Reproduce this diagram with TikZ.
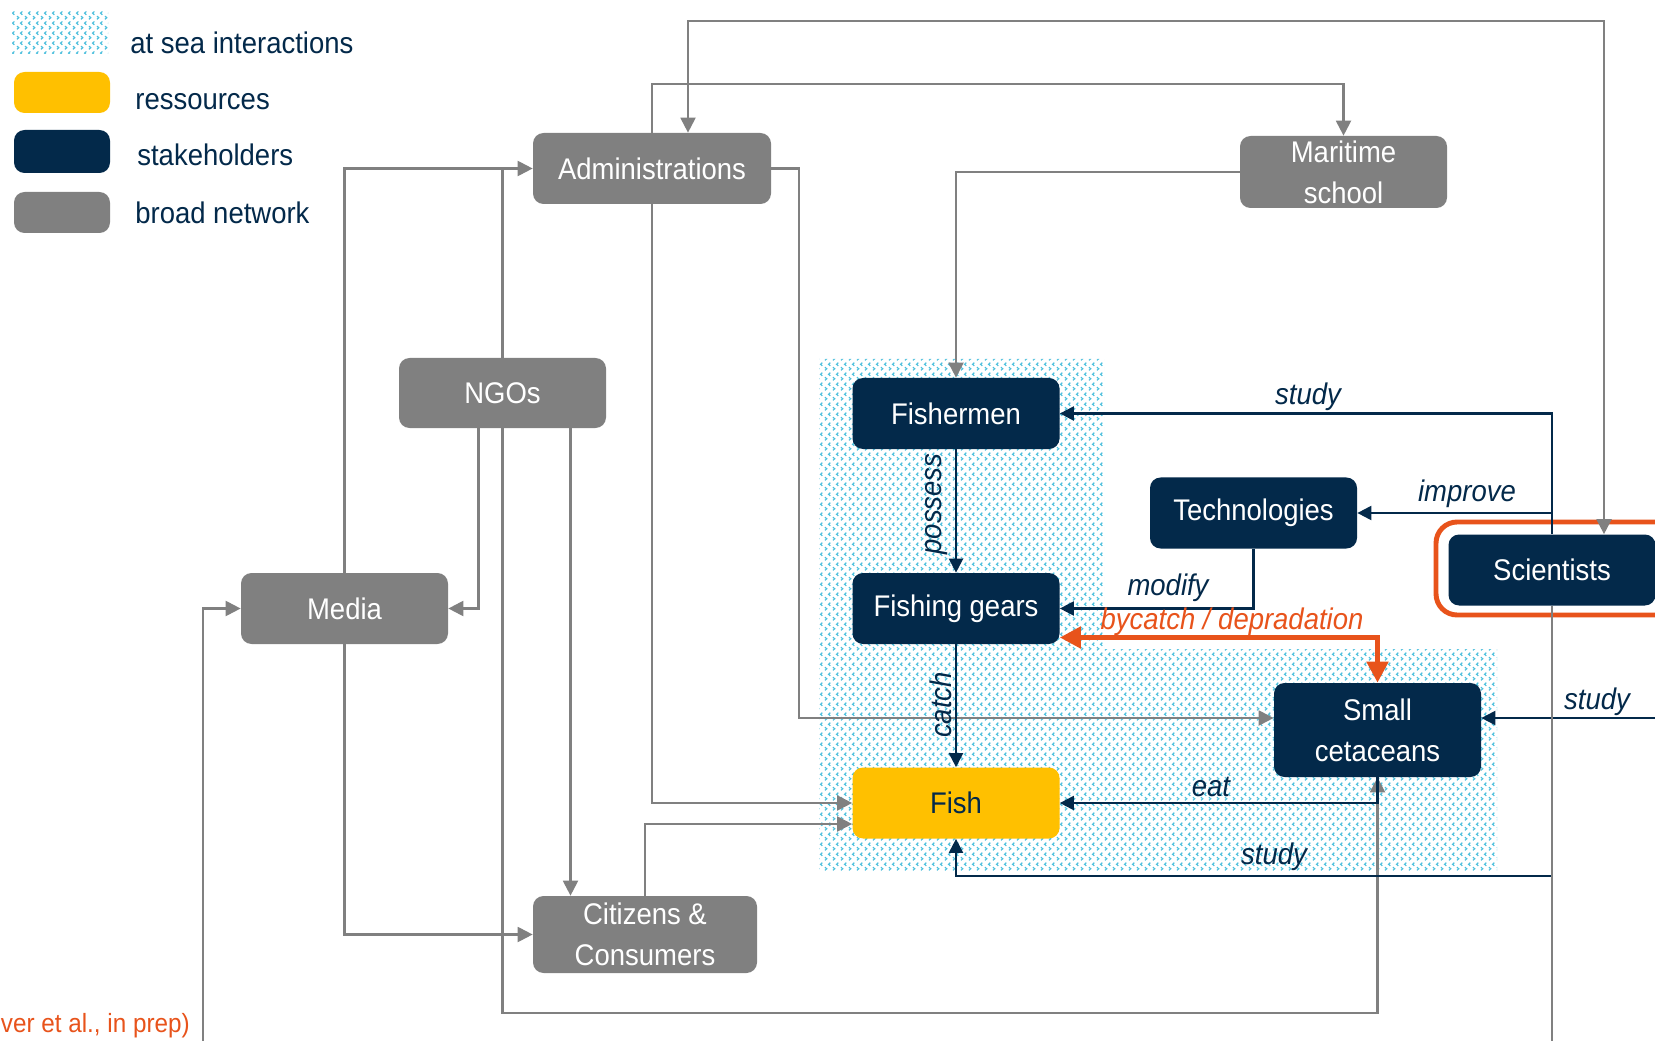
\documentclass[tikz,border=0pt]{standalone}
\usepackage{fontspec}
\setmainfont{Liberation Sans}[FakeStretch=0.92]
\usetikzlibrary{arrows.meta,calc,patterns}
\definecolor{navyc}{HTML}{03294A}
\definecolor{grayc}{HTML}{808080}
\definecolor{yellowc}{HTML}{FFC000}
\definecolor{orangec}{HTML}{E8531B}
\definecolor{cyanc}{HTML}{4DC0DD}
\pgfdeclarepatternformonly{seachev}{\pgfqpoint{0pt}{0pt}}{\pgfqpoint{4.6pt}{5.7pt}}{\pgfqpoint{4.6pt}{5.7pt}}{%
 \pgfsetlinewidth{0.75pt}%
 \pgfpathmoveto{\pgfqpoint{0.6pt}{0.4pt}}\pgfpathlineto{\pgfqpoint{1.7pt}{1.4pt}}\pgfpathlineto{\pgfqpoint{0.6pt}{2.4pt}}%
 \pgfpathmoveto{\pgfqpoint{4.0pt}{3.2pt}}\pgfpathlineto{\pgfqpoint{2.9pt}{4.2pt}}\pgfpathlineto{\pgfqpoint{4.0pt}{5.2pt}}%
 \pgfusepath{stroke}}
\newcommand\mydiafont{\fontsize{17pt}{23.5pt}\selectfont}
\newcommand\mynotefont{\fontsize{15pt}{19pt}\selectfont}
\tikzset{
 box/.style={rounded corners=6pt, inner sep=0pt, align=center, font=\mydiafont,
   minimum width=41.4mm, minimum height=14.2mm, text=white},
 navybox/.style={box, fill=navyc},
 graybox/.style={box, fill=grayc},
 yellowbox/.style={box, fill=yellowc, text=navyc},
 lbl/.style={font=\mydiafont\itshape, text=navyc, inner sep=0pt},
 legtext/.style={font=\mydiafont, text=navyc, inner sep=0pt},
 gline/.style={draw=grayc, line width=1.2pt},
 gconn/.style={gline, -{Triangle[length=8.5pt,width=8.5pt]}},
 gboth/.style={gline, {Triangle[length=8.5pt,width=8.5pt]}-{Triangle[length=8.5pt,width=8.5pt]}},
 nline/.style={draw=navyc, line width=1.2pt},
 nconn/.style={nline, -{Triangle[length=8pt,width=8pt]}},
 oboth/.style={draw=orangec, line width=2.8pt, {Triangle[length=12pt,width=12pt]}-{Triangle[length=12pt,width=12pt]}}
}
\begin{document}
\begin{tikzpicture}[x=0.2mm, y=-0.2mm]
\useasboundingbox (0,0) rectangle (1655,1041);
\clip (0,0) rectangle (1655,1041);
\fill[white] (0,0) rectangle (1655,1041);

% at sea interactions area
\fill[pattern=seachev, pattern color=cyanc] (819,359) -- (1104,359) -- (1104,649) -- (1497,649) -- (1497,871) -- (819,871) -- cycle;

% legend
\fill[pattern=seachev, pattern color=cyanc] (12,12) rectangle (108,54);
\fill[yellowc, rounded corners=6pt] (14,72) rectangle (110,113);
\fill[navyc, rounded corners=6pt] (14,130) rectangle (110,173);
\fill[grayc, rounded corners=6pt] (14,192) rectangle (110,233);
\node[legtext, anchor=base west] (leg1) at (130,54) {at sea interactions};
\node[legtext, anchor=base west] (leg2) at (135,110) {ressources};
\node[legtext, anchor=base west] (leg3) at (137,166) {stakeholders};
\node[legtext, anchor=base west] (leg4) at (135,224) {broad network};

% reference text
\node[legtext, font=\mynotefont, text=orangec, anchor=base east] (refnote) at (190,1032) {ver et al., in prep)};

% nodes
\node[graybox, minimum width=47.6mm] (adm) at (652,168.5) {Administrations};
\node[graybox, minimum height=14.4mm] (mar) at (1343.5,172) {Maritime\\school};
\node[graybox, minimum height=14mm] (ngo) at (502.5,393) {NGOs};
\node[graybox] (med) at (344.5,608.5) {Media};
\node[graybox, minimum width=44.8mm, minimum height=15.4mm] (cit) at (645,934.5) {Citizens \&\\Consumers};
\node[navybox] (fis) at (956,413.5) {Fishermen};
\node[navybox] (fg) at (956,608.5) {Fishing gears};
\node[yellowbox] (fish) at (956,803) {Fish};
\node[navybox] (tech) at (1253.5,513) {Technologies};
\node[navybox] (sci) at (1552,570) {Scientists};
\node[navybox, minimum height=18.8mm] (cet) at (1377.5,730) {Small\\cetaceans};

% scientists highlight frame
\draw[orangec, line width=2.8pt, rounded corners=12pt] (1436,522) rectangle (1690,615);

% coordinates
\coordinate (admR) at ($(adm.north)+(36,0)$);
\coordinate (sciR) at ($(sci.north)+(52,0)$);
\coordinate (ngoL) at ($(ngo.south)+(-24,0)$);
\coordinate (ngoR) at ($(ngo.south)+(68,0)$);
\coordinate (fishW2) at ($(fish.west)+(0,21)$);
\coordinate (cetW) at ($(cet.west)+(0,-12)$);
\coordinate (fgE2) at ($(fg.east)+(0,29)$);
\coordinate (offMedia) at (203,1050);
\coordinate (offSci) at (1552,1050);
\coordinate (offCet) at (1670,718);
\coordinate (studyBend) at (1552,876);

% gray connectors
\draw[gboth] (admR) -- ++(0,-112) -| (sciR);
\draw[gconn] (adm.north) -- ++(0,-49) -| (mar.north);
\draw[gconn] (adm.south) |- (fish.west);
\draw[gconn] (adm.east) -- ++(28,0) |- (cetW);
\draw[gconn] (mar.west) -| (fis.north);
\draw[gconn] (med.north) |- (adm.west);
\draw[gline] (ngo.north) -- (ngo.north |- adm.west);
\draw[gconn] (ngoL) |- (med.east);
\draw[gconn] (ngo.south) -- ++(0,585) -| (cet.south);
\draw[gconn] (ngoR) -- (ngoR |- cit.north);
\draw[gconn] (med.south) |- (cit.west);
\draw[gconn] (offMedia) |- (med.west);
\draw[gconn] (cit.north) |- (fishW2);

% navy connectors
\draw[nconn] (fis.south) -- (fg.north);
\draw[nconn] (fg.south) -- (fish.north);
\draw[nconn] (tech.south) |- (fg.east);
\draw[nconn] (sci.north) |- (tech.east);
\draw[nconn] (sci.north) |- (fis.east);
\draw[nconn] (cet.south) |- (fish.east);
\draw[nconn] (sci.south) -- (studyBend) -| (fish.south);
\draw[nconn] (offCet) -- (offCet -| cet.east);
\draw[gline] (sci.south) -- (offSci);

% orange interaction
\draw[oboth] (fgE2) -| (cet.north);

% labels
\node[lbl, rotate=90] (lpossess) at (937,504) {possess};
\node[lbl, rotate=90] (lcatch) at (941,705) {catch};
\node[lbl] (lstudyA) at (1308,397) {study};
\node[lbl] (limprove) at (1467,494) {improve};
\node[lbl] (lmodify) at (1168,588) {modify};
\node[lbl, text=orangec] (lbycatch) at (1232,622) {bycatch / depradation};
\node[lbl] (leat) at (1211,787) {eat};
\node[lbl] (lstudyB) at (1274,857) {study};
\node[lbl] (lstudyC) at (1597,702) {study};
\end{tikzpicture}
\end{document}
